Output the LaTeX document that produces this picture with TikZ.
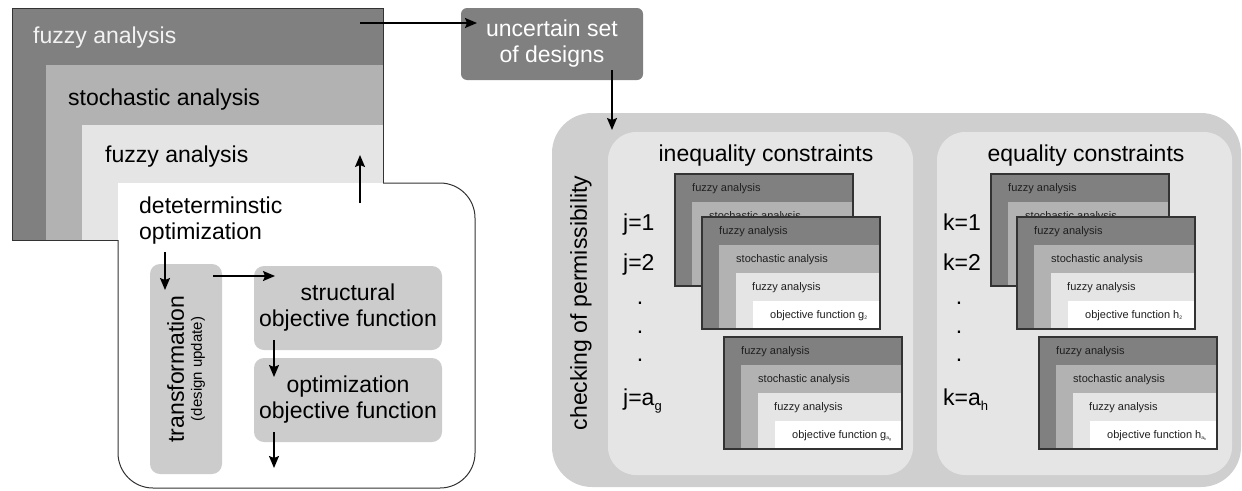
\documentclass[tikz,border=0pt]{standalone}
\usepackage{fontspec}
\setmainfont{Liberation Sans}
\usetikzlibrary{arrows.meta}

\definecolor{darkbox}{gray}{0.5}
\definecolor{midbox}{gray}{0.7}
\definecolor{lightbox}{gray}{0.9}
\definecolor{stepgray}{gray}{0.8}
\definecolor{panelgray}{gray}{0.81}
\definecolor{panellight}{gray}{0.9}
\definecolor{framegray}{gray}{0.2}
\definecolor{minitext}{gray}{0.12}
\definecolor{darklabel}{gray}{0.95}

\newcommand{\bigfont}{\fontsize{23}{26}\selectfont}
\newcommand{\minifont}{\fontsize{11}{13}\selectfont}
\newcommand{\tinysub}[1]{\raisebox{-1.5pt}{\fontsize{5}{5}\selectfont #1}}

% small nested analysis box: name, x, y (top left)
\newcommand{\stacktop}[3]{%
	\fill[darkbox] (#2,#3) rectangle (#2+178,#3+112);
	\fill[midbox] (#2+17,#3+28) rectangle (#2+178,#3+112);
	\fill[lightbox] (#2+34,#3+56) rectangle (#2+178,#3+112);
	\fill[white] (#2+51,#3+84) rectangle (#2+178,#3+112);
	\node[minilabel] (#1fz) at (#2+17,#3+17) {fuzzy analysis};
	\node[minilabel] (#1st) at (#2+34,#3+45) {stochastic analysis};
	\draw[miniframe] (#2,#3) rectangle (#2+178,#3+112);
}
% lower labels: name, x, y, function
\newcommand{\stackbottom}[4]{%
	\node[minilabel] (#1fi) at (#2+50,#3+73) {fuzzy analysis};
	\node[minilabel] (#1obj) at (#2+68,#3+101) {objective function #4};
}

\begin{document}
\begin{tikzpicture}[x=1pt,y=-1pt]
	\tikzstyle{biglabel} = [anchor=base west, inner sep=0pt, font=\bigfont]
	\tikzstyle{minilabel} = [anchor=base west, inner sep=0pt, font=\minifont, text=minitext]
	\tikzstyle{stepbox} = [rectangle, rounded corners=10pt, fill=stepgray, inner sep=0pt, align=center, font=\bigfont]
	\tikzstyle{flow} = [-{Stealth[length=12pt,width=10pt,inset=2pt]}, line width=1.4pt]
	\tikzstyle{boxline} = [line width=1pt, draw=framegray]
	\tikzstyle{miniframe} = [line width=1.2pt, draw=framegray]

	\useasboundingbox (0,0) rectangle (1242,490);

%---------- nested analysis, left ----------
	\filldraw[fill=white, boxline, rounded corners=35pt] (118,183) rectangle (475,488);
	\fill[darkbox] (12,8) rectangle (383,240);
	\fill[midbox] (46,65) rectangle (383,240);
	\fill[lightbox] (82,125) rectangle (383,240);
	\fill[white] (118,183) rectangle (383,240);
	\draw[boxline] (118,240) -- (12,240) -- (12,8) -- (383,8) -- (383,183);

	\node[biglabel, text=darklabel] (fuzzyouter) at (33,43) {fuzzy analysis};
	\node[biglabel] (stochastic) at (68,105) {stochastic analysis};
	\node[biglabel] (fuzzyinner) at (105,162) {fuzzy analysis};
	\node[biglabel] (detopt) at (139,213) {deteterminstic};
	\node[biglabel] (detopt2) at (139,239) {optimization};

	\coordinate (loopstart) at (360,203);
	\coordinate (loopend) at (360,155);
	\draw[flow] (loopstart) -- (loopend);

%---------- optimization loop ----------
	\node[stepbox, rotate=90, minimum width=210pt, minimum height=72pt] (trans) at (186,369)
		{transformation\\[-8pt]{\fontsize{15}{18}\selectfont (design update)}};
	\node[stepbox, minimum width=188pt, minimum height=84pt] (structobj) at (348,308) {structural\\objective function};
	\node[stepbox, minimum width=188pt, minimum height=84pt] (optobj) at (348,400) {optimization\\objective function};

	\coordinate (t1) at (165,252);
	\coordinate (t2) at (165,290);
	\coordinate (s1) at (213,276);
	\coordinate (s2) at (275,276);
	\coordinate (o1) at (274,340);
	\coordinate (o2) at (274,377);
	\coordinate (e1) at (274,432);
	\coordinate (e2) at (274,468);
	\draw[flow] (t1) -- (t2);
	\draw[flow] (s1) -- (s2);
	\draw[flow] (o1) -- (o2);
	\draw[flow] (e1) -- (e2);

%---------- uncertain set ----------
	\node[rectangle, rounded corners=6pt, fill=darkbox, minimum width=182pt, minimum height=72pt, inner sep=0pt,
		align=center, font=\bigfont, text=white] (uncertain) at (552,44) {uncertain set\\of designs};
	\coordinate (u1) at (360,23);
	\coordinate (u2) at (477,23);
	\coordinate (d1) at (612,70);
	\coordinate (d2) at (612,130);

%---------- checking of permissibility ----------
	\fill[panelgray, rounded corners=40pt] (552,113) rectangle (1241,487);
	\node[font=\bigfont, rotate=90, inner sep=0pt] (checking) at (581,303) {checking of permissibility};
	\fill[panellight, rounded corners=28pt] (608,132) rectangle (913,475);
	\fill[panellight, rounded corners=28pt] (937,132) rectangle (1232,475);

	\draw[flow] (u1) -- (u2);
	\draw[flow] (d1) -- (d2);

	\node[font=\bigfont, anchor=base, inner sep=0pt] (ineq) at (766,161) {inequality constraints};
	\node[font=\bigfont, anchor=base, inner sep=0pt] (eq) at (1086,161) {equality constraints};

	\node[biglabel] (j1) at (623,230) {j=1};
	\node[biglabel] (j2) at (623,270) {j=2};
	\node[biglabel] (jg) at (623,405) {j=a\raisebox{-5pt}{\fontsize{13}{13}\selectfont g}};
	\node[biglabel] (k1) at (943,230) {k=1};
	\node[biglabel] (k2) at (943,270) {k=2};
	\node[biglabel] (kh) at (943,405) {k=a\raisebox{-5pt}{\fontsize{13}{13}\selectfont h}};
	\foreach \y [count=\i] in {304,333,361} {
		\node[font=\bigfont, anchor=base, inner sep=0pt] (jdot\i) at (640,\y) {.};
		\node[font=\bigfont, anchor=base, inner sep=0pt] (kdot\i) at (959,\y) {.};
	}

%---------- constraint stacks ----------
	\stacktop{ga}{675}{174}
	\stacktop{gb}{702}{217}
	\stackbottom{gb}{702}{217}{g\tinysub{2}}
	\stacktop{gc}{724}{337}
	\stackbottom{gc}{724}{337}{g\tinysub{a\raisebox{-0.8pt}{\fontsize{3.5}{4}\selectfont g}}}

	\stacktop{ha}{991}{174}
	\stacktop{hb}{1017}{217}
	\stackbottom{hb}{1017}{217}{h\tinysub{2}}
	\stacktop{hc}{1039}{337}
	\stackbottom{hc}{1039}{337}{h\tinysub{a\raisebox{-0.8pt}{\fontsize{3.5}{4}\selectfont h}}}
\end{tikzpicture}
\end{document}
